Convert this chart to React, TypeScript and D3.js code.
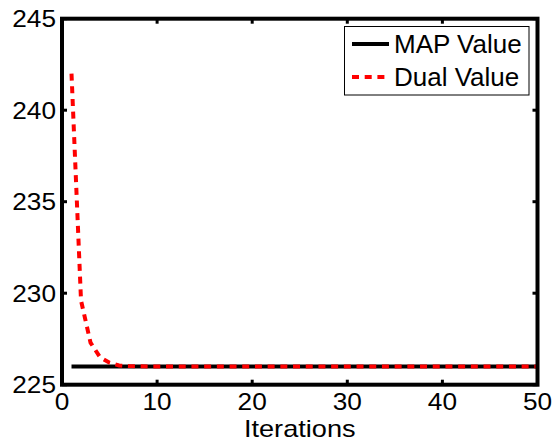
import React from 'react';
import * as d3 from 'd3';

// values
const iterations = [
  1, 2, 3, 4, 5, 6, 7, 8, 9, 10, 11, 12, 13, 14, 15, 16, 17, 18, 19, 20, 21, 22, 23, 24, 25,
  26, 27, 28, 29, 30, 31, 32, 33, 34, 35, 36, 37, 38, 39, 40, 41, 42, 43, 44, 45, 46, 47, 48, 49, 50,
];
const mapValues = [
  226, 226, 226, 226, 226, 226, 226, 226, 226, 226, 226, 226, 226, 226, 226, 226, 226, 226, 226, 226,
  226, 226, 226, 226, 226, 226, 226, 226, 226, 226, 226, 226, 226, 226, 226, 226, 226, 226, 226, 226,
  226, 226, 226, 226, 226, 226, 226, 226, 226, 226,
];
const dualValues = [
  242, 229.6, 227.3, 226.5, 226.2, 226.05, 226.02, 226.01, 226, 226, 226, 226, 226, 226, 226, 226, 226, 226, 226, 226,
  226, 226, 226, 226, 226, 226, 226, 226, 226, 226, 226, 226, 226, 226, 226, 226, 226, 226, 226, 226,
  226, 226, 226, 226, 226, 226, 226, 226, 226, 226,
];
const xTicks = [0, 10, 20, 30, 40, 50];
const yTicks = [225, 230, 235, 240, 245];
const legendLabels = ['MAP Value', 'Dual Value'];

const W = 555;
const H = 447;
const margin = { top: 18.7, right: 17.5, bottom: 62.3, left: 62 };
const FONT = 'Liberation Sans, Arial, Helvetica, sans-serif';

export default function App() {
  const x = d3.scaleLinear().domain([0, 50]).range([margin.left, W - margin.right]);
  const y = d3.scaleLinear().domain([225, 245]).range([H - margin.bottom, margin.top]);

  const line = d3
    .line<number>()
    .x((_, i) => x(iterations[i]))
    .y((d) => y(d));

  const x0 = x(0), x1 = x(50), y0 = y(225), y1 = y(245);
  const tickLen = 5;
  const sx = 1.14;

  return (
    <svg
      width={W}
      height={H}
      style={{ position: 'fixed', left: 0, top: 0, background: '#fff' }}
      fontFamily={FONT}
    >
      <rect x={0} y={0} width={W} height={H} fill="#fff" />

      {/* series */}
      <path d={line(mapValues) || ''} fill="none" stroke="#000" strokeWidth={4} />
      <path
        d={line(dualValues) || ''}
        fill="none"
        stroke="#ff0000"
        strokeWidth={4}
        strokeDasharray="7,5.7"
      />

      {/* ticks, inward on all four sides */}
      {xTicks.map((t) => (
        <g key={'xt' + t}>
          <line x1={x(t)} x2={x(t)} y1={y0} y2={y0 - tickLen} stroke="#000" strokeWidth={3} />
          <line x1={x(t)} x2={x(t)} y1={y1} y2={y1 + tickLen} stroke="#000" strokeWidth={3} />
          <text
            transform={`translate(${x(t)},${410}) scale(${sx},1)`}
            textAnchor="middle"
            fontSize={23}
            fill="#000"
          >
            {t}
          </text>
        </g>
      ))}
      {yTicks.map((t) => (
        <g key={'yt' + t}>
          <line x1={x0} x2={x0 + tickLen} y1={y(t)} y2={y(t)} stroke="#000" strokeWidth={3} />
          <line x1={x1} x2={x1 - tickLen} y1={y(t)} y2={y(t)} stroke="#000" strokeWidth={3} />
          <text
            transform={`translate(${56},${y(t) + 8.3}) scale(${sx},1)`}
            textAnchor="end"
            fontSize={23}
            fill="#000"
          >
            {t}
          </text>
        </g>
      ))}

      {/* axes box */}
      <rect
        x={x0}
        y={y1}
        width={x1 - x0}
        height={y0 - y1}
        fill="none"
        stroke="#000"
        strokeWidth={4}
      />

      <text
        transform={`translate(${(x0 + x1) / 2},${437}) scale(1.18,1)`}
        textAnchor="middle"
        fontSize={23}
        fill="#000"
      >
        Iterations
      </text>

      {/* legend */}
      <g>
        <rect x={344.5} y={26.5} width={184.5} height={68.5} fill="#fff" stroke="#000" strokeWidth={1} />
        {legendLabels.map((lab, i) => {
          const cy = 44 + i * 33;
          return (
            <g key={lab}>
              <line
                x1={352}
                x2={389}
                y1={cy}
                y2={cy}
                stroke={i === 0 ? '#000' : '#ff0000'}
                strokeWidth={4}
                strokeDasharray={i === 0 ? undefined : '7,5.7'}
              />
              <text x={394} y={cy + 8.5} fontSize={26} fill="#000">
                {lab}
              </text>
            </g>
          );
        })}
      </g>
    </svg>
  );
}
